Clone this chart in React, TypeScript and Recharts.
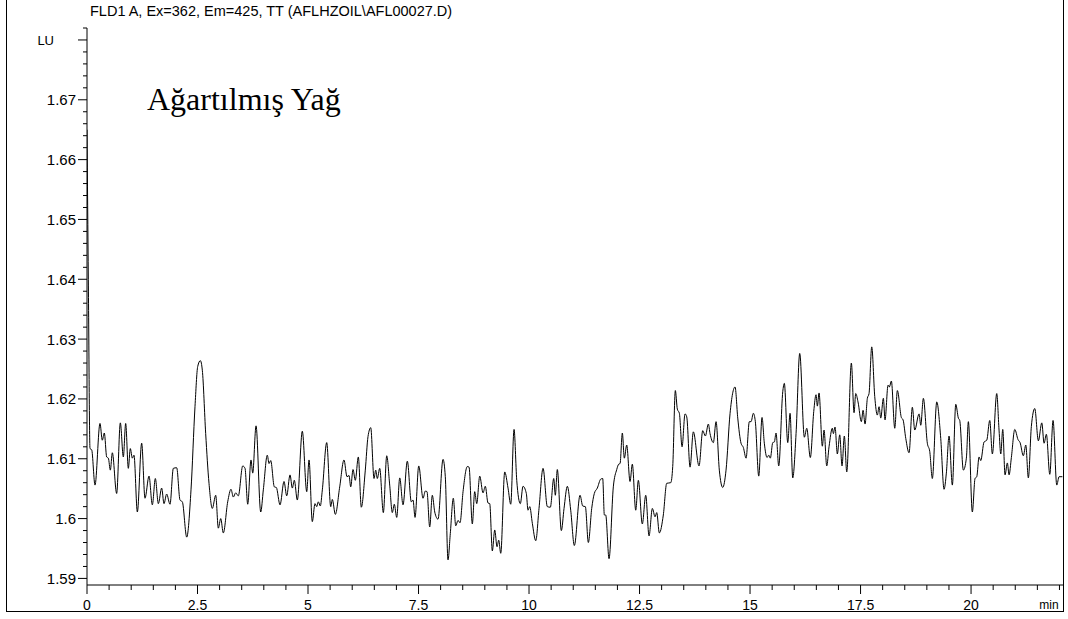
import React from 'react';
import { LineChart, Line, XAxis, YAxis } from 'recharts';

// trace, [time (min), signal (LU)]
const traceStart: [number, number][] = [
  [0, 1.665], [0.03, 1.64], [0.068, 1.6117], [0.106, 1.6115], [0.181, 1.6056], [0.294, 1.6159],
  [0.346, 1.6131], [0.392, 1.6143], [0.445, 1.6103], [0.483, 1.6101], [0.528, 1.6081], [0.573, 1.611],
  [0.671, 1.6042], [0.754, 1.616], [0.822, 1.6103], [0.875, 1.6159], [0.935, 1.6084], [0.98, 1.6117],
  [1.026, 1.6101], [1.063, 1.6106], [1.139, 1.6011], [1.237, 1.6126], [1.312, 1.6034], [1.403, 1.6071],
  [1.478, 1.6023], [1.546, 1.6067], [1.614, 1.6025], [1.689, 1.6051], [1.742, 1.6025], [1.802, 1.6041],
  [1.878, 1.6024], [1.953, 1.6084], [2.029, 1.6085], [2.104, 1.6031], [2.157, 1.6028], [2.256, 1.5969],
  [2.353, 1.6048], [2.443, 1.6187], [2.504, 1.6254], [2.564, 1.6264], [2.609, 1.6248], [2.685, 1.6142],
  [2.76, 1.6059], [2.835, 1.6017], [2.912, 1.6039], [2.971, 1.5984], [3.025, 1.6], [3.084, 1.5976],
  [3.183, 1.6028], [3.258, 1.6049], [3.31, 1.6036], [3.364, 1.6043], [3.423, 1.6038], [3.523, 1.6088],
  [3.575, 1.6084], [3.636, 1.6024], [3.71, 1.6098], [3.749, 1.6076], [3.824, 1.6155], [3.93, 1.6011],
  [3.989, 1.6048], [4.079, 1.6106], [4.118, 1.6092], [4.156, 1.6097], [4.238, 1.6053], [4.283, 1.6052],
  [4.367, 1.6023], [4.457, 1.6062], [4.518, 1.6038], [4.593, 1.6073], [4.645, 1.6051], [4.69, 1.6064],
  [4.758, 1.6031], [4.871, 1.6146], [4.971, 1.6045], [5.023, 1.6098], [5.097, 1.5995], [5.158, 1.6025],
  [5.197, 1.602], [5.233, 1.6028], [5.278, 1.6021], [5.324, 1.6048], [5.423, 1.6127],
];

const traceMid: [number, number][] = [
  [5.514, 1.602], [5.55, 1.6032], [5.618, 1.6007], [5.717, 1.6053], [5.814, 1.6098], [5.882, 1.607],
  [5.928, 1.6072], [5.966, 1.6053], [6.018, 1.6082], [6.07, 1.6064], [6.138, 1.6103], [6.206, 1.6019],
  [6.296, 1.6081], [6.357, 1.6137], [6.419, 1.6152], [6.493, 1.6067], [6.532, 1.6081], [6.568, 1.6067],
  [6.622, 1.6084], [6.704, 1.601], [6.781, 1.6105], [6.848, 1.6056], [6.907, 1.601], [6.952, 1.6024],
  [7.007, 1.6002], [7.075, 1.6068], [7.149, 1.6023], [7.247, 1.6096], [7.337, 1.6028], [7.376, 1.6031],
  [7.421, 1.6002], [7.505, 1.6088], [7.602, 1.6034], [7.654, 1.6046], [7.692, 1.6045], [7.753, 1.5986],
  [7.812, 1.6039], [7.867, 1.6011], [7.941, 1.5999], [8.054, 1.6099], [8.106, 1.607], [8.167, 1.5931],
  [8.219, 1.5975], [8.287, 1.6034], [8.342, 1.5988], [8.394, 1.5997], [8.439, 1.5993], [8.507, 1.6045],
  [8.604, 1.6087], [8.643, 1.6086], [8.717, 1.5991], [8.771, 1.6045], [8.817, 1.6025], [8.885, 1.6071],
  [8.959, 1.6043], [9.011, 1.6054], [9.072, 1.6026], [9.111, 1.6025], [9.17, 1.5946], [9.224, 1.5981],
  [9.276, 1.5953], [9.314, 1.5964], [9.36, 1.5942], [9.45, 1.6078], [9.525, 1.6051], [9.586, 1.6024],
  [9.661, 1.6149], [9.722, 1.6064], [9.803, 1.6025], [9.864, 1.6054], [9.939, 1.6042], [9.977, 1.6014],
  [10.016, 1.602], [10.075, 1.5992], [10.152, 1.5963], [10.226, 1.6017], [10.317, 1.6084], [10.414, 1.602],
  [10.482, 1.6019], [10.559, 1.6067], [10.595, 1.6039], [10.64, 1.6082], [10.731, 1.598], [10.792, 1.6017],
  [10.867, 1.6054], [10.943, 1.6014], [11.025, 1.5955], [11.154, 1.6039], [11.215, 1.6021], [11.274, 1.602],
  [11.342, 1.596], [11.418, 1.6017], [11.477, 1.6042], [11.545, 1.6051], [11.622, 1.6066], [11.667, 1.6067],
  [11.704, 1.6006], [11.735, 1.6006], [11.81, 1.5933], [11.907, 1.6053], [11.984, 1.6082], [12.029, 1.6091],
  [12.059, 1.6092], [12.111, 1.6143], [12.156, 1.6101], [12.21, 1.6123], [12.285, 1.6062], [12.337, 1.6091],
  [12.414, 1.6014], [12.473, 1.6064], [12.563, 1.5991], [12.64, 1.6039], [12.715, 1.5971], [12.79, 1.6017],
  [12.851, 1.6003], [12.889, 1.601], [12.948, 1.5976], [13.038, 1.6006],
];

const traceLate: [number, number][] = [
  [13.115, 1.6059], [13.206, 1.606], [13.251, 1.6087], [13.31, 1.6214], [13.355, 1.6183], [13.401, 1.6176],
  [13.462, 1.612], [13.529, 1.6175], [13.568, 1.617], [13.643, 1.6086], [13.717, 1.6145], [13.846, 1.6088],
  [13.93, 1.6147], [13.989, 1.6138], [14.057, 1.6158], [14.095, 1.6142], [14.17, 1.6127], [14.231, 1.6162],
  [14.305, 1.6081], [14.382, 1.6052], [14.457, 1.6081], [14.548, 1.6176], [14.661, 1.622], [14.722, 1.6168],
  [14.796, 1.6126], [14.848, 1.6119], [14.91, 1.6101], [14.984, 1.6162], [15.023, 1.6162], [15.075, 1.6176],
  [15.12, 1.6162], [15.197, 1.6071], [15.271, 1.6169], [15.323, 1.6126], [15.385, 1.6102], [15.423, 1.6106],
  [15.459, 1.6101], [15.514, 1.6127], [15.55, 1.6128], [15.588, 1.6143], [15.649, 1.6088], [15.74, 1.6212],
  [15.776, 1.6226], [15.853, 1.6127], [15.905, 1.6176], [15.966, 1.6068], [16.041, 1.6142], [16.124, 1.6276],
  [16.229, 1.6136], [16.283, 1.6151], [16.364, 1.6102], [16.441, 1.6179], [16.493, 1.6207], [16.523, 1.6188],
  [16.561, 1.621], [16.636, 1.6121], [16.674, 1.6148], [16.735, 1.6088], [16.787, 1.612], [16.862, 1.6151],
  [16.885, 1.6142], [16.923, 1.6153], [16.975, 1.6108], [17.029, 1.614], [17.081, 1.6088], [17.133, 1.6138],
  [17.188, 1.6078], [17.292, 1.626], [17.353, 1.6177], [17.391, 1.6209], [17.443, 1.6195], [17.518, 1.6162],
  [17.557, 1.6181], [17.602, 1.6158], [17.654, 1.6201], [17.692, 1.6209], [17.753, 1.6287], [17.821, 1.6204],
  [17.88, 1.6173], [17.919, 1.6187], [17.957, 1.6168], [18.016, 1.6201], [18.054, 1.6165], [18.122, 1.6223],
  [18.152, 1.622], [18.197, 1.623], [18.274, 1.6151], [18.333, 1.6214], [18.423, 1.6169], [18.462, 1.6165],
  [18.523, 1.6134], [18.597, 1.611], [18.672, 1.6186], [18.726, 1.6148], [18.824, 1.6175], [18.862, 1.6156],
  [18.921, 1.6201], [19.011, 1.6126], [19.066, 1.6112], [19.124, 1.6067], [19.224, 1.6195], [19.314, 1.6134],
  [19.389, 1.6049], [19.441, 1.6076], [19.502, 1.6138], [19.577, 1.6056], [19.654, 1.6191], [19.713, 1.6168],
  [19.744, 1.6164], [19.826, 1.6081], [19.894, 1.6101], [19.939, 1.6162], [20.029, 1.6011], [20.09, 1.6067],
  [20.129, 1.607], [20.181, 1.6103], [20.219, 1.6097], [20.294, 1.6128], [20.355, 1.6131], [20.423, 1.6164],
  [20.482, 1.6108], [20.581, 1.6209], [20.633, 1.6148], [20.672, 1.6108], [20.717, 1.6149], [20.769, 1.6073],
  [20.821, 1.6093], [20.86, 1.6073], [20.912, 1.6102], [20.989, 1.6149], [21.063, 1.6132], [21.109, 1.6127],
  [21.183, 1.6105], [21.238, 1.6123], [21.296, 1.6068], [21.364, 1.6154], [21.441, 1.6184], [21.523, 1.613],
  [21.6, 1.616], [21.652, 1.6126], [21.704, 1.6141], [21.781, 1.6074], [21.855, 1.6164], [21.939, 1.6056],
  [21.991, 1.607], [22.066, 1.607],
];

const xMajor = [0, 2.5, 5, 7.5, 10, 12.5, 15, 17.5, 20];
const yMajor = [1.59, 1.6, 1.61, 1.62, 1.63, 1.64, 1.65, 1.66, 1.67, 1.68];
const yLabels = ['1.59', '1.6', '1.61', '1.62', '1.63', '1.64', '1.65', '1.66', '1.67', 'LU'];

const xTicks = Array.from({ length: 45 }, (_, i) => i * 0.5);
const yTicks = Array.from({ length: 47 }, (_, i) => Math.round((1.59 + i * 0.002) * 1000) / 1000);

const data = [...traceStart, ...traceMid, ...traceLate].map(([t, v]) => ({ t, v }));

const SANS = '"Liberation Sans", Arial, sans-serif';

const YTick = (props: any) => {
  const { x, y, payload } = props;
  const idx = yMajor.findIndex((m) => Math.abs(m - payload.value) < 1e-6);
  const major = idx >= 0;
  const label = major ? yLabels[idx] : null;
  return (
    <g>
      <line x1={x - (major ? 9 : 4)} x2={x} y1={y} y2={y} stroke="#000" strokeWidth={1} />
      {label && (
        <text
          x={label === 'LU' ? x - 33 : x - 11}
          y={y}
          dy="0.36em"
          textAnchor="end"
          fontFamily={SANS}
          fontSize={label === 'LU' ? 13 : 15}
          fill="#000"
        >
          {label}
        </text>
      )}
    </g>
  );
};

const XTick = (props: any) => {
  const { x, y, payload } = props;
  const major = xMajor.some((m) => Math.abs(m - payload.value) < 1e-6);
  return (
    <g>
      <line x1={x} x2={x} y1={y} y2={y + (major ? 9 : 5)} stroke="#000" strokeWidth={1} />
      {major && (
        <text x={x} y={y + 25} textAnchor="middle" fontFamily={SANS} fontSize={14} fill="#000">
          {String(payload.value)}
        </text>
      )}
    </g>
  );
};

export default function App() {
  return (
    <div style={{ position: 'absolute', left: 0, top: 0, width: 1068, height: 619, background: '#fff', overflow: 'hidden' }}>
      <div
        style={{
          position: 'absolute',
          left: 6,
          top: -2,
          width: 1058,
          height: 614,
          boxSizing: 'border-box',
          borderLeft: '1px solid #000',
          borderRight: '1px solid #000',
          borderBottom: '1px solid #000',
        }}
      />
      <LineChart
        width={1068}
        height={619}
        data={data}
        margin={{ top: 28, right: 5, bottom: 8, left: 7 }}
        style={{ position: 'absolute', left: 0, top: 0 }}
      >
        <XAxis
          dataKey="t"
          type="number"
          domain={[0, 22.08]}
          ticks={xTicks}
          interval={0}
          height={26}
          tickSize={0}
          tickMargin={0}
          tickLine={false}
          tick={<XTick />}
          axisLine={{ stroke: '#000', strokeWidth: 1 }}
          allowDataOverflow
        />
        <YAxis
          type="number"
          domain={[1.5889, 1.682]}
          ticks={yTicks}
          interval={0}
          width={80}
          tickSize={0}
          tickMargin={0}
          tickLine={false}
          tick={<YTick />}
          axisLine={{ stroke: '#000', strokeWidth: 1 }}
          allowDataOverflow
        />
        <Line
          type="monotone"
          dataKey="v"
          stroke="#000"
          strokeWidth={1}
          dot={false}
          activeDot={false}
          isAnimationActive={false}
        />
      </LineChart>
      <svg width={1068} height={619} style={{ position: 'absolute', left: 0, top: 0, pointerEvents: 'none' }}>
        <text x={90} y={16} fontFamily={SANS} fontSize={14.5} fill="#000">
          FLD1 A, Ex=362, Em=425, TT (AFLHZOIL\AFL00027.D)
        </text>
        <text x={147} y={110} fontFamily={'"Liberation Serif", "Times New Roman", serif'} fontSize={32} fill="#000">
          Ağartılmış Yağ
        </text>
        <text x={1049} y={609} textAnchor="middle" fontFamily={SANS} fontSize={12} fill="#000">
          min
        </text>
      </svg>
    </div>
  );
}
